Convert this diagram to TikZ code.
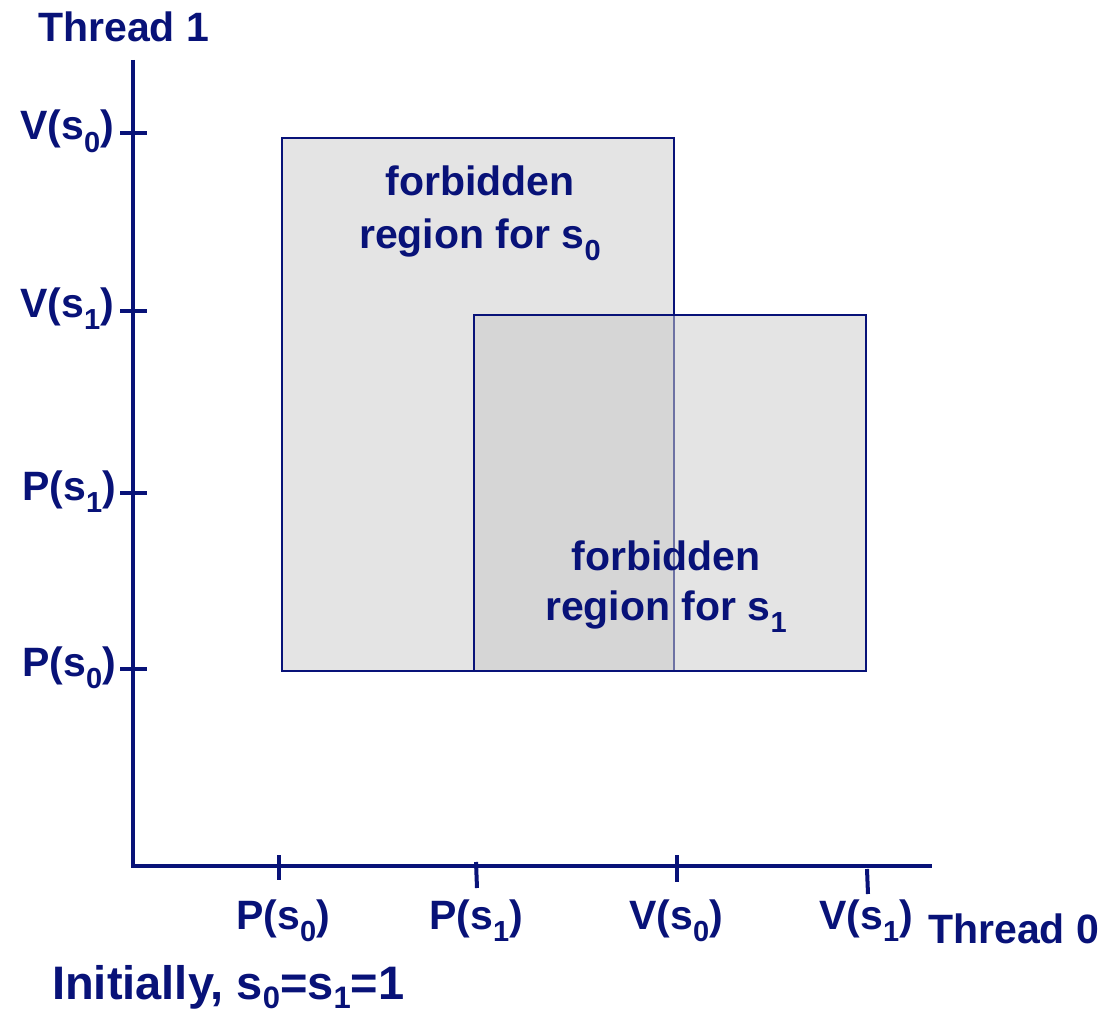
\documentclass[tikz,border=0pt]{standalone}
\usepackage{fontspec}
\setmainfont{Liberation Sans}
\definecolor{navy}{RGB}{8,18,120}
\definecolor{regfill}{RGB}{228,228,228}
\definecolor{ovfill}{RGB}{203,203,203}
\newcommand\sbs[1]{\raisebox{-0.3em}{\fontsize{29}{30}\selectfont #1}}
\newcommand\sbsbig[1]{\raisebox{-0.2em}{\fontsize{31}{32}\selectfont #1}}
\tikzset{
  lbl/.style={text=navy, inner sep=0pt, font=\fontsize{41}{48}\selectfont\bfseries},
  biglbl/.style={text=navy, inner sep=0pt, font=\fontsize{47}{54}\selectfont\bfseries},
  axisline/.style={draw=navy, line width=4pt},
  tickline/.style={draw=navy, line width=4pt},
  region/.style={draw=navy, line width=2pt, fill=regfill},
  regiontop/.style={draw=navy, line width=2pt, fill=ovfill, fill opacity=0.52},
}
\begin{document}
\begin{tikzpicture}[x=1pt,y=-1pt]
\useasboundingbox (0,0) rectangle (1106,1014);
% regions
\path[region] (282,138) rectangle (674,671);
\path[regiontop] (474,315) rectangle (866,671);
% axes
\coordinate (origin) at (133,866);
\coordinate (ytop) at (133,60);
\coordinate (xend) at (932,866);
\draw[axisline] (ytop) -- (origin) -- (xend);
% y ticks
\coordinate (yt1a) at (120,133); \coordinate (yt1b) at (147,133);
\coordinate (yt2a) at (120,311); \coordinate (yt2b) at (147,311);
\coordinate (yt3a) at (120,493); \coordinate (yt3b) at (147,493);
\coordinate (yt4a) at (120,669); \coordinate (yt4b) at (147,669);
\draw[tickline] (yt1a) -- (yt1b);
\draw[tickline] (yt2a) -- (yt2b);
\draw[tickline] (yt3a) -- (yt3b);
\draw[tickline] (yt4a) -- (yt4b);
% x ticks
\coordinate (xt1a) at (279,855); \coordinate (xt1b) at (279,880);
\coordinate (xt2a) at (476,862); \coordinate (xt2b) at (477,888);
\coordinate (xt3a) at (677,855); \coordinate (xt3b) at (677,882);
\coordinate (xt4a) at (867,869); \coordinate (xt4b) at (868,894);
\draw[tickline] (xt1a) -- (xt1b);
\draw[tickline] (xt2a) -- (xt2b);
\draw[tickline] (xt3a) -- (xt3b);
\draw[tickline] (xt4a) -- (xt4b);
% y labels
\node[lbl, anchor=base east] (yl1) at (114,140) {V(s\sbs{0})};
\node[lbl, anchor=base east] (yl2) at (114,317) {V(s\sbs{1})};
\node[lbl, anchor=base east] (yl3) at (116,500) {P(s\sbs{1})};
\node[lbl, anchor=base east] (yl4) at (116,676) {P(s\sbs{0})};
% x labels
\node[lbl, anchor=base] (xl1) at (283,929) {P(s\sbs{0})};
\node[lbl, anchor=base] (xl2) at (476,929) {P(s\sbs{1})};
\node[lbl, anchor=base] (xl3) at (676,929) {V(s\sbs{0})};
\node[lbl, anchor=base] (xl4) at (866,929) {V(s\sbs{1})};
% axis titles
\node[lbl, anchor=base west] (t1) at (38,42) {Thread 1};
\node[lbl, anchor=base west] (t0) at (928,943) {Thread 0};
\node[biglbl, anchor=base west] (init) at (52,999) {Initially, s\sbsbig{0}=s\sbsbig{1}=1};
% region labels
\node[lbl, anchor=base] (r0a) at (480,196) {forbidden};
\node[lbl, anchor=base] (r0b) at (480,248) {region for s\sbs{0}};
\node[lbl, anchor=base] (r1a) at (666,570) {forbidden};
\node[lbl, anchor=base] (r1b) at (666,620) {region for s\sbs{1}};
\end{tikzpicture}
\end{document}
